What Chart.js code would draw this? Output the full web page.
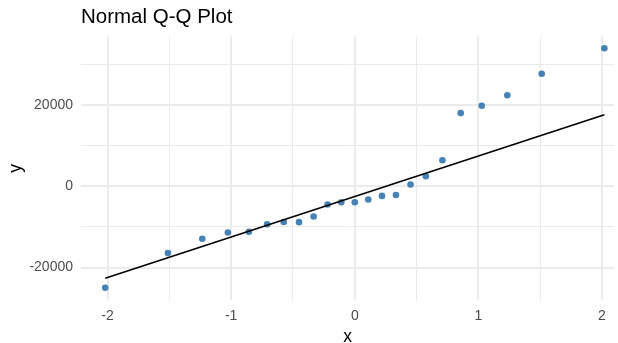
<!DOCTYPE html>
<html>
<head>
<meta charset="utf-8">
<script src="https://cdn.jsdelivr.net/npm/chart.js@4"></script>
<style>
  body { margin: 0; background: #fff; }
  #box { width: 618px; height: 343px; }
</style>
</head>
<body>
<div id="box"><canvas id="qq" width="618" height="343"></canvas></div>
<script>
// theoretical quantiles (x) and sample values (y)
const xTheo = [-2.019, -1.512, -1.234, -1.027, -0.857, -0.709, -0.575, -0.451, -0.333, -0.220, -0.109, 0,
  0.109, 0.220, 0.333, 0.451, 0.575, 0.709, 0.857, 1.027, 1.234, 1.512, 2.019];
const ySample = [-24960, -16440, -12930, -11360, -11210, -9370, -8800, -8830, -7440, -4490, -3930, -3930,
  -3260, -2380, -2140, 420, 2450, 6380, 17990, 19800, 22400, 27660, 33940];

// reference line ends
const lineX = [-2.019, 2.019];
const lineY = [-22650, 17600];

// ticks (labelled) and minor grid positions
const xTicks = [-2, -1, 0, 1, 2];
const xMinor = [-1.5, -0.5, 0.5, 1.5];
const yTicks = [-20000, 0, 20000];
const yMinor = [-10000, 10000, 30000];

const points = xTheo.map((x, i) => ({ x: x, y: ySample[i] }));
const line = lineX.map((x, i) => ({ x: x, y: lineY[i] }));

const fontFam = "'Liberation Sans', Arial, sans-serif";

function gridOpts(majors) {
  return {
    color: "#EBEBEB",
    lineWidth: ctx => (ctx.tick && majors.includes(ctx.tick.value)) ? 2 : 1,
    drawTicks: false
  };
}

function setTicks(majors, minors) {
  return function (scale) {
    scale.ticks = majors.concat(minors).sort((a, b) => a - b).map(v => ({ value: v }));
  };
}

new Chart(document.querySelector("#qq"), {
  type: "scatter",
  data: {
    datasets: [
      {
        label: "qq line",
        data: line,
        showLine: true,
        borderColor: "#000",
        borderWidth: 1.6,
        pointRadius: 0,
        order: 0
      },
      {
        label: "sample",
        data: points,
        backgroundColor: "#4682B4",
        borderColor: "#4682B4",
        pointRadius: 3.3,
        borderWidth: 0,
        order: 1
      }
    ]
  },
  options: {
    responsive: false,
    animation: false,
    layout: { padding: 0 },
    plugins: {
      legend: { display: false },
      tooltip: { enabled: false },
      title: {
        display: true,
        text: "Normal Q-Q Plot",
        align: "start",
        fullSize: false,
        color: "#000",
        font: { family: fontFam, size: 20.5, weight: "normal", lineHeight: 1.2 },
        padding: { top: 5, bottom: 7 }
      }
    },
    scales: {
      x: {
        type: "linear",
        min: -2.215,
        max: 2.097,
        border: { display: false },
        grid: gridOpts(xTicks),
        afterBuildTicks: setTicks(xTicks, xMinor),
        afterFit: s => { s.height = 43; },
        ticks: {
          autoSkip: false,
          maxRotation: 0,
          padding: 8,
          color: "#4D4D4D",
          font: { family: fontFam, size: 14 },
          callback: v => xTicks.includes(v) ? String(v) : ""
        },
        title: {
          display: true,
          text: "x",
          color: "#000",
          font: { family: fontFam, size: 17.5, lineHeight: 0.7 },
          padding: 0
        }
      },
      y: {
        type: "linear",
        min: -27980,
        max: 36810,
        border: { display: false },
        grid: gridOpts(yTicks),
        afterBuildTicks: setTicks(yTicks, yMinor),
        afterFit: s => { s.width = 81; },
        ticks: {
          autoSkip: false,
          padding: 8,
          color: "#4D4D4D",
          font: { family: fontFam, size: 14 },
          callback: v => yTicks.includes(v) ? String(v) : ""
        },
        title: {
          display: true,
          text: "y",
          color: "#000",
          font: { family: fontFam, size: 17.5, lineHeight: 1.2 },
          padding: { top: 6, bottom: 0 }
        }
      }
    }
  }
});
</script>
</body>
</html>
